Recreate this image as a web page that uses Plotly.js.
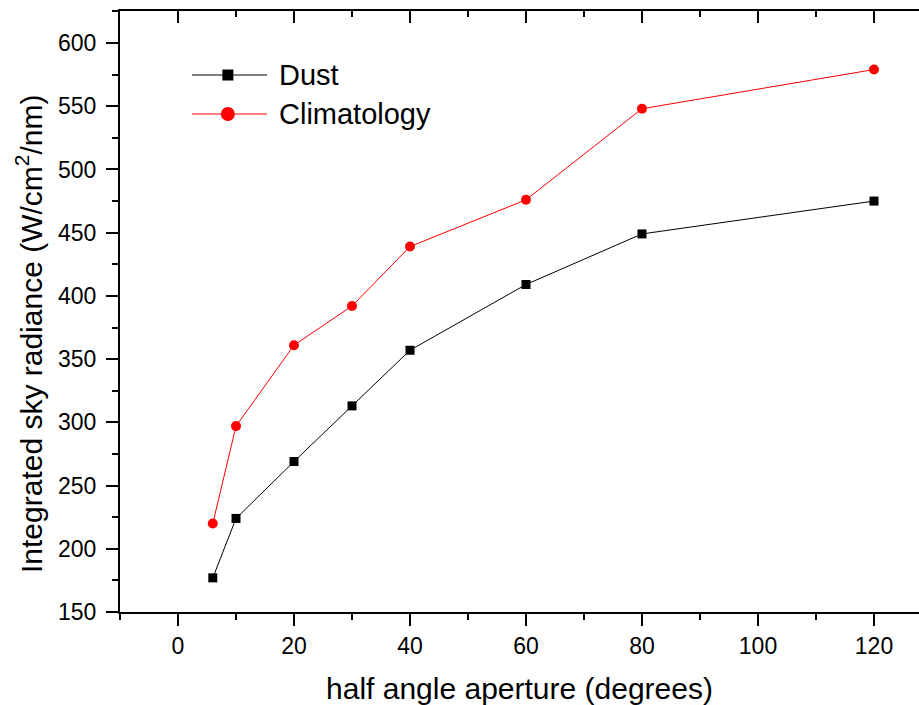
<!DOCTYPE html>
<html><head><meta charset="utf-8">
<script src="https://cdn.plot.ly/plotly-3.0.1.min.js"></script>
<style>html,body{margin:0;padding:0;background:#fff}#plot{width:919px;height:705px}</style>
</head><body><div id="plot"></div>
<script>
const aperture = [6, 10, 20, 30, 40, 60, 80, 120];
const dust = [177, 224, 269, 313, 357, 409, 449, 475];
const climatology = [220, 297, 361, 392, 439, 476, 548, 579];
const seriesNames = ['Dust', 'Climatology'];
const xTitle = 'half angle aperture (degrees)';
const yTitle = 'Integrated sky radiance (W/cm<sup>2</sup>/nm)';

const font = 'Liberation Sans, Arial, sans-serif';
const colors = ['#000000', '#ff0000'];
const traces = [
  {x: aperture, y: dust, name: seriesNames[0], mode: 'lines+markers', type: 'scatter',
   line: {color: colors[0], width: 1}, marker: {symbol: 'square', size: 9, color: colors[0]}},
  {x: aperture, y: climatology, name: seriesNames[1], mode: 'lines+markers', type: 'scatter',
   line: {color: colors[1], width: 1}, marker: {symbol: 'circle', size: 10, color: colors[1]}},
  {x: [aperture[0]], y: [dust[0]], xaxis: 'x2', showlegend: false, hoverinfo: 'skip',
   mode: 'markers', marker: {opacity: 0}}
];

// custom legend (long sample lines like the original)
const legY = [0.8935, 0.8286];
const shapes = [];
const annotations = [];
seriesNames.forEach((n, i) => {
  shapes.push({type: 'line', xref: 'paper', yref: 'paper', x0: 0.0901, x1: 0.184, y0: legY[i], y1: legY[i],
               line: {color: colors[i], width: 1}});
  const s = i === 0 ? 5.5 : 7;
  shapes.push({type: i === 0 ? 'rect' : 'circle', xref: 'paper', yref: 'paper',
               xsizemode: 'pixel', ysizemode: 'pixel', xanchor: 0.135, yanchor: legY[i],
               x0: -s, x1: s, y0: -s, y1: s, fillcolor: colors[i], line: {width: 0}});
  annotations.push({text: n, xref: 'paper', yref: 'paper', x: 0.197, y: legY[i], xanchor: 'left', yanchor: 'middle',
                    showarrow: false, font: {size: 29, family: font, color: '#000'}});
});
// y-axis title (placed like the original, slightly below the axis centre)
annotations.push({text: yTitle, xref: 'paper', yref: 'paper', x: -0.1139, y: 0.4642, textangle: -90,
                  xanchor: 'center', yanchor: 'middle', showarrow: false,
                  font: {size: 30, family: font, color: '#000'}});

const xr = [-10, 127.76];
const layout = {
  width: 919, height: 705,
  margin: {l: 120, r: 0, t: 11, b: 93},
  paper_bgcolor: '#fff', plot_bgcolor: '#fff',
  font: {family: font, color: '#000'},
  showlegend: false,
  shapes: shapes, annotations: annotations,
  xaxis: {range: xr, tickvals: [0,20,40,60,80,100,120], ticks: 'outside', ticklen: 12, tickwidth: 2,
          tickcolor: '#000', showline: true, linecolor: '#000', linewidth: 2, showgrid: false, zeroline: false,
          tickfont: {size: 23, family: font}, ticklabelstandoff: 0,
          minor: {tickvals: [-10,10,30,50,70,90,110], ticks: 'outside', ticklen: 6, tickwidth: 2, tickcolor: '#000'},
          title: {text: xTitle, font: {size: 30, family: font}, standoff: 24}},
  xaxis2: {range: xr, overlaying: 'x', side: 'top', anchor: 'y', tickvals: [0,20,40,60,80,100,120],
           ticks: 'inside', ticklen: 12, tickwidth: 2, tickcolor: '#000', showticklabels: false,
           showline: true, linecolor: '#000', linewidth: 2, showgrid: false, zeroline: false,
           minor: {tickvals: [-10,10,30,50,70,90,110], ticks: 'inside', ticklen: 6, tickwidth: 2, tickcolor: '#000'}},
  yaxis: {range: [150, 625.3], tickvals: [150,200,250,300,350,400,450,500,550,600], ticks: 'outside', ticklen: 12,
          tickwidth: 2, tickcolor: '#000', showline: true, linecolor: '#000', linewidth: 2, showgrid: false,
          zeroline: false, tickfont: {size: 23, family: font}, ticklabelstandoff: 5,
          minor: {tickvals: [175,225,275,325,375,425,475,525,575,625], ticks: 'outside', ticklen: 6, tickwidth: 2, tickcolor: '#000'}}
};
Plotly.newPlot('plot', traces, layout, {displayModeBar: false, staticPlot: true});
</script></body></html>
